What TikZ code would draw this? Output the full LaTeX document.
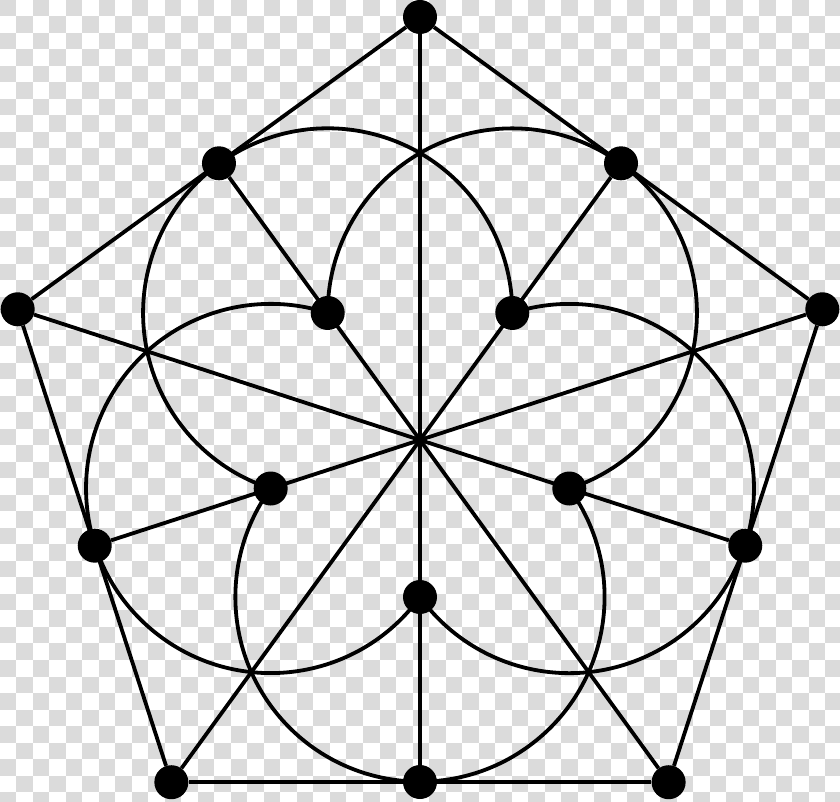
\documentclass[tikz,border=0pt]{standalone}
\usetikzlibrary{arrows}
\pgfdeclarelayer{background}
\pgfsetlayers{background,main}
\tikzstyle{vertex}=[circle,fill=black,minimum size=34pt,inner sep=0pt]
\tikzstyle{edge} = [draw,line width=3.8pt]
\tikzstyle{petal} = [draw,line width=3.8pt]
\tikzstyle{tile} = [fill=black!14]

\begin{document}
\begin{tikzpicture}[x=1pt,y=1pt]
			\useasboundingbox (-420,-362) rectangle (420,440);

			% First we draw the checkered background
			\begin{pgfonlayer}{background}
			\clip (-420,-362) rectangle (420,440);
			\foreach \i in {0,...,50}
				\foreach \j in {0,...,48}
				{
				\pgfmathtruncatemacro{\odd}{mod(\i+\j,2)}
				\ifnum\odd=0 \path[tile] (-420+16.5*\i,440-16.5*\j) rectangle ++(16.5,-16.5); \fi
				}
			\end{pgfonlayer}

			% Then the vertices: corners, edge midpoints and inner points
			\foreach \k in {0,...,4}
			{
			\node[vertex] (v\k) at (90+72*\k:423) {};
			\node[vertex] (m\k) at (270+72*\k:342) {};
			\node[vertex] (i\k) at (270+72*\k:157) {};
			}

			% Connect corners round the pentagon and through the centre
			\foreach \source/ \dest in {v0/v1, v1/v2, v2/v3, v3/v4, v4/v0,
										v0/m0, v1/m1, v2/m2, v3/m3, v4/m4}
			\path[edge] (\source) -- (\dest);

			% Petals: arcs round each inner point, from one neighbour to the other
			\foreach \k/ \from in {0/1, 1/2, 2/3, 3/4, 4/0}
			\path[petal] (i\from.center) arc[start angle=396+72*\k, end angle=144+72*\k, radius=184.6];

		\end{tikzpicture}
\end{document}
